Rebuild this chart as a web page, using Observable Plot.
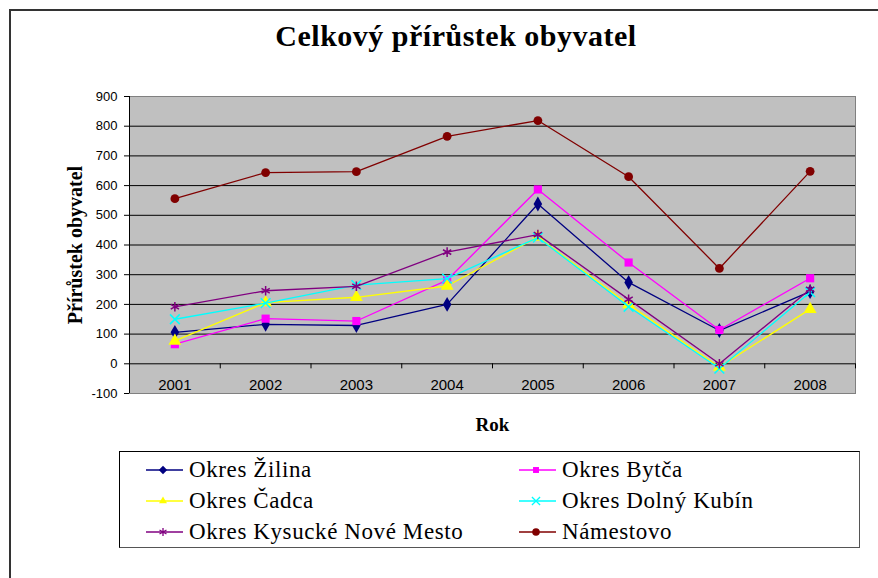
<!DOCTYPE html>
<html>
<head>
<meta charset="utf-8">
<script src="https://cdn.jsdelivr.net/npm/d3@7"></script>
<script src="https://cdn.jsdelivr.net/npm/@observablehq/plot@0.6"></script>
<style>
  html, body { margin: 0; padding: 0; background: #fff; width: 878px; height: 578px; overflow: hidden; }
  #frame { position: absolute; left: 9px; top: 9px; width: 900px; height: 600px; border: 2px solid #333; box-sizing: border-box; }
  #title { position: absolute; left: 0; top: 0; width: 912px; height: 60px; text-align: center;
           font-family: "Liberation Serif", "Times New Roman", serif; font-weight: bold; font-size: 30px;
           letter-spacing: 0.5px; line-height: 30px; padding-top: 21px; box-sizing: border-box; }
  #chart { position: absolute; left: 0; top: 60px; }
  #legend { position: absolute; left: 119px; top: 451px; width: 741px; height: 97px; border: 1px solid #000;
            border-right-color: #555; border-bottom-color: #555; box-sizing: border-box; background: #fff; }
  .item { position: absolute; height: 30px; display: flex; align-items: center; white-space: nowrap; }
  .item svg { margin-right: 6px; flex: none; }
  .item span { font-family: "Liberation Serif", "Times New Roman", serif; font-size: 23px;
               letter-spacing: 0.6px; color: #000; }
</style>
</head>
<body>
<div id="frame"></div>
<div id="title">Celkový přírůstek obyvatel</div>
<div id="chart"></div>
<div id="legend"></div>
<script>
// ---- data ----
const years = ["2001", "2002", "2003", "2004", "2005", "2006", "2007", "2008"];
const seriesNames = ["Okres Žilina", "Okres Bytča", "Okres Čadca", "Okres Dolný Kubín", "Okres Kysucké Nové Mesto", "Námestovo"];
const zilina     = [106, 133, 129, 200, 538, 274, 112, 243];
const bytca      = [66, 152, 144, 282, 587, 341, 114, 288];
const cadca      = [77, 206, 224, 262, 427, 200, -11, 184];
const dolnyKubin = [150, 204, 265, 287, 425, 192, -16, 241];
const kysucke    = [192, 246, 261, 376, 435, 217, 0, 251];
const namestovo  = [556, 644, 647, 766, 819, 630, 321, 648];
const yTicks = [-100, 0, 100, 200, 300, 400, 500, 600, 700, 800, 900];
const yTitle = "Přírůstek obyvatel";
const xTitle = "Rok";

// ---- styling ----
const seriesValues = [zilina, bytca, cadca, dolnyKubin, kysucke, namestovo];
const colors = ["#000080", "#ff00ff", "#ffff00", "#00ffff", "#800080", "#800000"];
const symbols = ["diamond", "square", "triangle", "times", "asterisk", "circle"];
const filled = [true, true, true, false, false, true];
const radii = [4.5, 4.6, 4.8, 4.5, 4.5, 4.4];

const rows = [];
seriesValues.forEach((vals, s) => vals.forEach((v, i) => rows.push({series: seriesNames[s], s, xi: i + 1, year: years[i], value: v})));

const boundaries = d3.range(0.5, years.length + 1, 1);

const marks = [
  Plot.frame({fill: "#c0c0c0", stroke: "#808080"}),
  Plot.ruleY(yTicks.filter(d => d > -100 && d < 900), {y: d => d, stroke: "#000", strokeWidth: 1}),
  Plot.ruleX([0.5], {x: d => d, stroke: "#000", strokeWidth: 1}),
  Plot.ruleX(boundaries, {x: d => d, y1: 0, y2: -17, stroke: "#000", strokeWidth: 1}),
  Plot.axisY({ticks: yTicks, tickSize: 5, tickPadding: 7, tickFormat: d => String(d),
              fontSize: 13, fontFamily: "Liberation Sans, Arial, sans-serif", fill: "#000", label: null}),
  Plot.text(years, {x: (d, i) => i + 1, frameAnchor: "bottom", dy: -8, lineAnchor: "middle", text: d => d,
                    fontSize: 15, fontFamily: "Liberation Sans, Arial, sans-serif", fill: "#000"}),
  Plot.text([yTitle], {frameAnchor: "left", dx: -54, rotate: -90, textAnchor: "middle", lineAnchor: "middle", text: d => d,
                        fontSize: 20, fontWeight: "bold", letterSpacing: "0.5px",
                        fontFamily: "Liberation Serif, Times New Roman, serif", fill: "#000"}),
  Plot.text([xTitle], {frameAnchor: "bottom", dy: 31, lineAnchor: "middle", text: d => d, fontSize: 19, fontWeight: "bold",
                        letterSpacing: "1px", fontFamily: "Liberation Serif, Times New Roman, serif", fill: "#000"})
];

seriesNames.forEach((name, s) => {
  const data = rows.filter(r => r.s === s);
  marks.push(Plot.line(data, {x: "xi", y: "value", stroke: colors[s], strokeWidth: 1.3}));
  marks.push(Plot.dot(data, filled[s]
    ? {x: "xi", y: "value", symbol: () => symbols[s], r: radii[s], fill: colors[s], stroke: "none"}
    : {x: "xi", y: "value", symbol: () => symbols[s], r: radii[s], stroke: colors[s], fill: "none", strokeWidth: 1.5}));
});

const chart = Plot.plot({
  width: 878,
  height: 380,
  marginLeft: 129,
  marginRight: 23,
  marginTop: 36,
  marginBottom: 47,
  style: {background: "transparent", overflow: "visible"},
  x: {domain: [0.5, years.length + 0.5], axis: null},
  y: {domain: [-100, 900], axis: null},
  symbol: {type: "identity"},
  marks
});
document.getElementById("chart").appendChild(chart);

// ---- legend ----
const legend = document.getElementById("legend");
const colX = [146 - 119, 519 - 119];
const rowY = [470 - 451, 501 - 451, 532 - 451];
const symMap = {diamond: d3.symbolDiamond2, square: d3.symbolSquare2, triangle: d3.symbolTriangle2, times: d3.symbolTimes, asterisk: d3.symbolAsterisk, circle: d3.symbolCircle};
seriesNames.forEach((name, s) => {
  const col = s % 2, row = Math.floor(s / 2);
  const div = document.createElement("div");
  div.className = "item";
  div.style.left = (colX[col] - 1) + "px";
  div.style.top = (rowY[row] - 15 - 1) + "px";
  const svg = d3.create("svg").attr("width", 37).attr("height", 14);
  svg.append("line").attr("x1", 0).attr("x2", 37).attr("y1", 7).attr("y2", 7).attr("stroke", colors[s]).attr("stroke-width", 1.3);
  const sym = d3.symbol(symMap[symbols[s]], 45)();
  const p = svg.append("path").attr("d", sym).attr("transform", "translate(17,7)");
  if (filled[s]) p.attr("fill", colors[s]); else p.attr("fill", "none").attr("stroke", colors[s]).attr("stroke-width", 1.3);
  div.appendChild(svg.node());
  const span = document.createElement("span");
  span.textContent = name;
  div.appendChild(span);
  legend.appendChild(div);
});
</script>
</body>
</html>
